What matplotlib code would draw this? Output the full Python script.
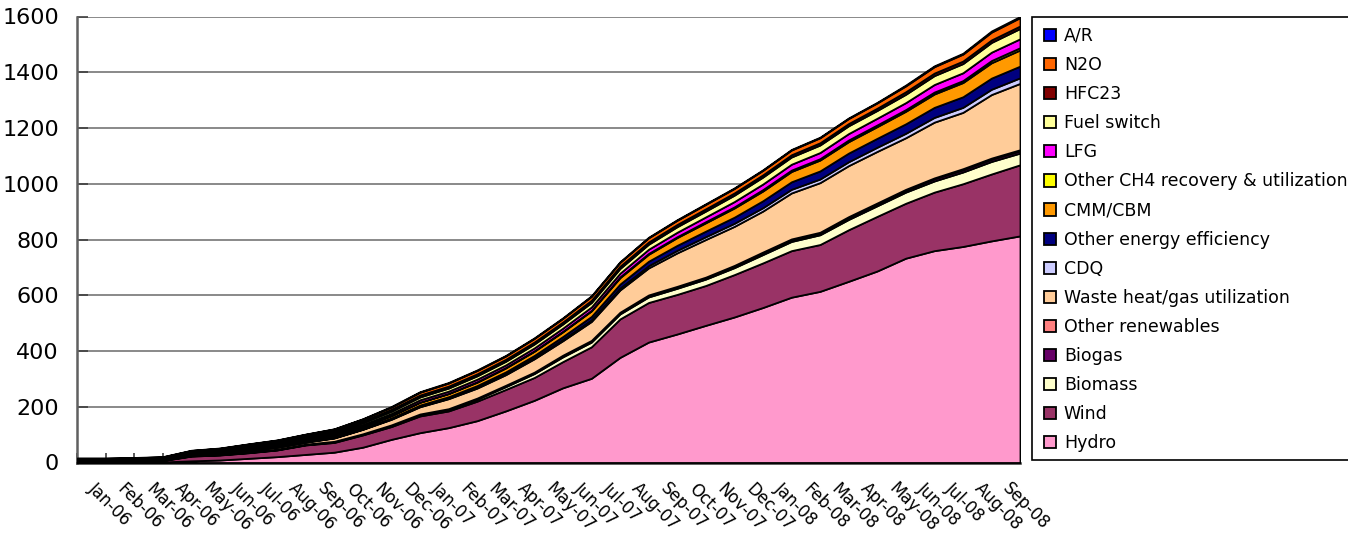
import numpy as np
import matplotlib
matplotlib.use('Agg')
import matplotlib.pyplot as plt
from matplotlib.patches import Rectangle

# month labels (one per category)
months = ['Jan-06', 'Feb-06', 'Mar-06', 'Apr-06', 'May-06', 'Jun-06', 'Jul-06', 'Aug-06',
          'Sep-06', 'Oct-06', 'Nov-06', 'Dec-06', 'Jan-07', 'Feb-07', 'Mar-07', 'Apr-07',
          'May-07', 'Jun-07', 'Jul-07', 'Aug-07', 'Sep-07', 'Oct-07', 'Nov-07', 'Dec-07',
          'Jan-08', 'Feb-08', 'Mar-08', 'Apr-08', 'May-08', 'Jun-08', 'Jul-08', 'Aug-08',
          'Sep-08']

# values read at each month boundary (start of Jan-06 ... end of Sep-08), bottom layer first
hydro = [0, 0, 1, 2, 6, 9, 15, 21, 29, 37, 55, 83, 107, 125, 150, 185, 223, 268, 302, 377,
         432, 461, 492, 522, 556, 593, 614, 650, 687, 733, 760, 775, 795, 813]
wind = [2, 2, 3, 5, 17, 18, 20, 24, 34, 35, 44, 46, 60, 60, 70, 77, 82, 94, 113, 138,
        142, 142, 143, 152, 160, 167, 168, 185, 196, 197, 210, 225, 240, 255]
biomass = [1, 1, 1, 1, 1, 1, 1, 1, 1, 2, 2, 3, 4, 5, 7, 10, 14, 17, 17, 18,
           20, 22, 23, 25, 30, 33, 35, 37, 38, 40, 40, 42, 45, 42]
biogas = [1, 1, 1, 1, 1, 1, 1, 1, 1, 1, 1, 2, 2, 2, 3, 3, 3, 4, 4, 4,
          5, 5, 5, 5, 6, 6, 6, 7, 7, 7, 8, 8, 8, 8]
other_ren = [0, 0, 0, 0, 1, 1, 1, 1, 1, 1, 1, 1, 1, 1, 1, 2, 2, 2, 2, 2,
             2, 2, 2, 3, 3, 3, 3, 3, 3, 3, 3, 4, 4, 4]
waste_heat = [1, 1, 1, 1, 2, 5, 6, 7, 7, 12, 16, 20, 26, 36, 36, 38, 48, 52, 68, 80,
              97, 120, 135, 140, 147, 165, 178, 183, 185, 185, 200, 202, 228, 238]
cdq = [0, 0, 0, 0, 0, 0, 1, 1, 1, 1, 1, 2, 2, 2, 3, 3, 4, 5, 6, 7,
       8, 9, 10, 11, 12, 13, 13, 14, 15, 16, 17, 18, 19, 20]
other_ee = [1, 1, 1, 1, 1, 1, 2, 2, 2, 2, 3, 3, 4, 5, 6, 7, 8, 10, 12, 14,
            16, 18, 20, 22, 25, 27, 29, 31, 32, 34, 36, 38, 40, 42]
cmm = [2, 2, 2, 2, 3, 3, 3, 4, 4, 5, 6, 8, 10, 11, 12, 14, 15, 17, 20, 23,
       25, 28, 30, 33, 35, 37, 39, 41, 42, 45, 48, 51, 55, 58]
other_ch4 = [0, 0, 0, 0, 0, 0, 1, 1, 1, 1, 1, 1, 1, 1, 2, 2, 2, 2, 2, 3,
             3, 3, 4, 4, 5, 5, 5, 6, 6, 6, 7, 7, 8, 8]
lfg = [2, 2, 2, 2, 3, 3, 3, 4, 4, 5, 6, 7, 8, 8, 9, 9, 10, 11, 12, 13,
       15, 16, 17, 19, 20, 21, 22, 23, 24, 25, 27, 28, 30, 32]
fuel_switch = [1, 1, 1, 1, 2, 2, 3, 4, 5, 6, 7, 8, 10, 11, 12, 13, 14, 15, 16, 17,
               18, 20, 21, 23, 25, 26, 27, 28, 28, 30, 32, 33, 35, 37]
hfc23 = [2, 2, 2, 2, 3, 4, 5, 5, 6, 6, 6, 7, 7, 7, 7, 7, 7, 7, 8, 8,
         8, 8, 8, 8, 8, 8, 8, 8, 8, 9, 9, 9, 9, 9]
n2o = [2, 2, 2, 2, 3, 3, 4, 4, 5, 6, 7, 8, 10, 11, 12, 12, 13, 13, 14, 14,
       15, 15, 16, 16, 16, 17, 18, 18, 19, 21, 23, 25, 28, 30]
ar = [1, 1, 1, 1, 1, 1, 1, 1, 1, 1, 1, 2, 2, 2, 2, 2, 2, 2, 2, 2,
      2, 2, 2, 2, 2, 2, 2, 2, 2, 3, 3, 3, 4, 4]

labels = ['Hydro', 'Wind', 'Biomass', 'Biogas', 'Other renewables',
          'Waste heat/gas utilization', 'CDQ', 'Other energy efficiency', 'CMM/CBM',
          'Other CH4 recovery & utilization', 'LFG', 'Fuel switch', 'HFC23', 'N2O', 'A/R']
colors = ['#FF99CC', '#993366', '#FFFFCC', '#660066', '#FF8080',
          '#FFCC99', '#CCCCFF', '#000080', '#FF9900',
          '#FFFF00', '#FF00FF', '#FFFF99', '#800000', '#FF6600', '#0000FF']
series = [hydro, wind, biomass, biogas, other_ren, waste_heat, cdq, other_ee, cmm,
          other_ch4, lfg, fuel_switch, hfc23, n2o, ar]

fig = plt.figure(figsize=(13.48, 5.39), dpi=100)
ax = fig.add_axes([77/1348, 1-462.5/539, (1020-77)/1348, (462.5-16.5)/539])

x = np.arange(len(hydro))
polys = ax.stackplot(x, *series, colors=colors, labels=labels,
                     edgecolor='black', linewidth=1.3, zorder=3)

ax.set_xlim(0, len(months))
ax.set_ylim(0, 1600)
ax.set_yticks(range(0, 1601, 200))
ax.yaxis.grid(True, color='#808080', linewidth=1.3, zorder=0)
ax.set_axisbelow(True)

# ticks between months, labels centred in each month
ax.set_xticks(np.arange(0, len(months) + 1))
ax.set_xticklabels([])
ax.set_xticks(np.arange(len(months)) + 0.5, minor=True)
ax.set_xticklabels(months, minor=True, rotation=-45, ha='left', va='center',
                   rotation_mode='anchor', fontsize=12)
ax.tick_params(axis='x', which='major', direction='in', length=7, width=1.2, color='#404040')
ax.tick_params(axis='x', which='minor', length=0, pad=17)
ax.tick_params(axis='y', direction='in', length=8, width=1.2, color='#404040',
               labelsize=16, pad=13)

for s in ['top', 'right']:
    ax.spines[s].set_visible(False)
ax.spines['left'].set_color('#606060')
ax.spines['left'].set_linewidth(1.8)
ax.spines['bottom'].set_color('#303030')
ax.spines['bottom'].set_linewidth(1.8)

# legend box runs off the right edge
fig.patches.append(Rectangle((1032/1348, 1-460/539), 0.5, (460-17)/539,
                             transform=fig.transFigure, facecolor='white',
                             edgecolor='black', linewidth=1.2))
handles = polys[::-1]
fig.legend(handles, labels[::-1], loc='upper left',
           bbox_to_anchor=(1037/1348, 1-20/539), frameon=False, fontsize=12.5,
           handlelength=0.7, handleheight=0.7, handletextpad=0.45,
           labelspacing=0.64, borderaxespad=0)

fig.savefig('out.png', dpi=100)
